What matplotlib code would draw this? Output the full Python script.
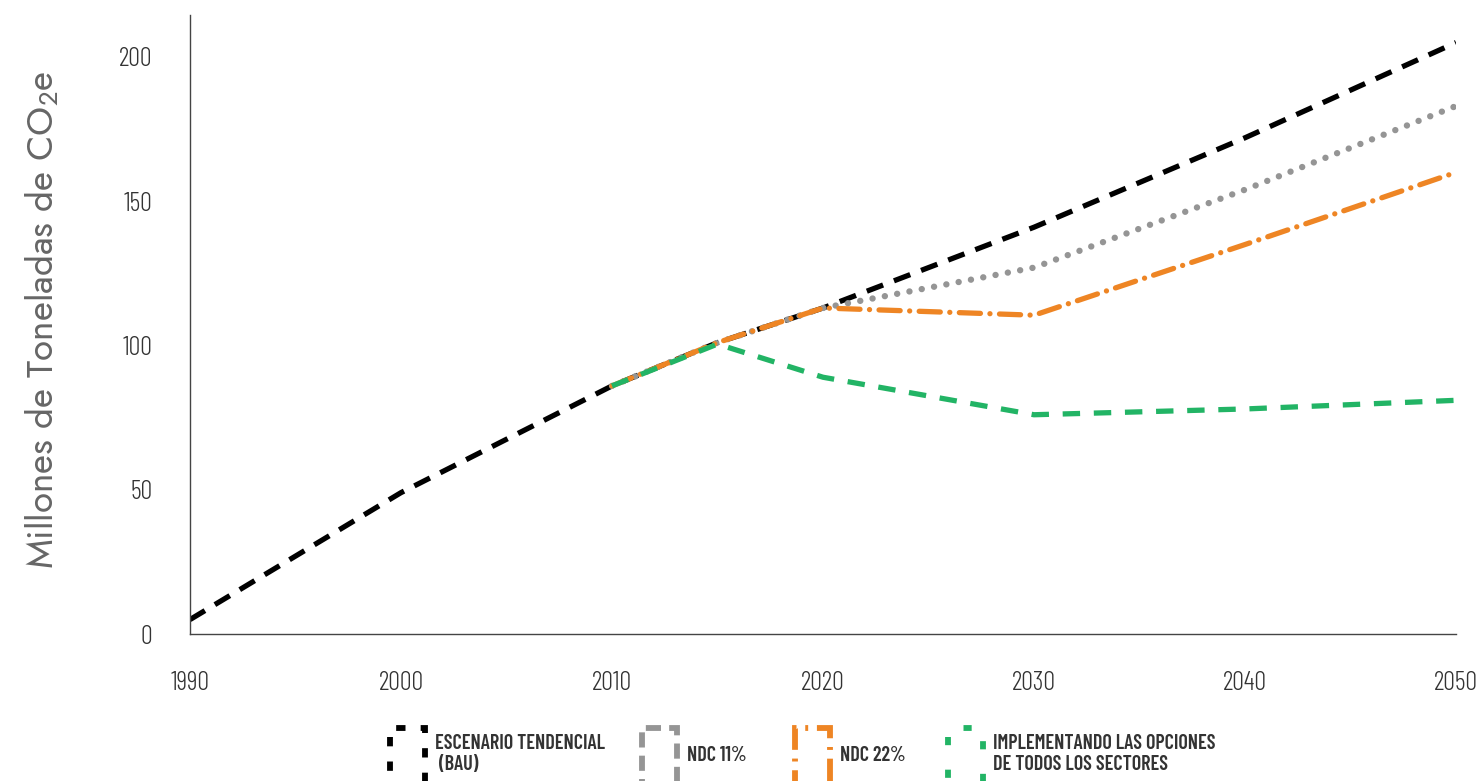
import matplotlib
matplotlib.use("Agg")
import matplotlib.pyplot as plt
from matplotlib.patches import Rectangle
from matplotlib import font_manager

fams = {f.name for f in font_manager.fontManager.ttflist}
def pick(*names):
    for n in names:
        if n in fams:
            return n
    return "DejaVu Sans"

cond = pick("Barlow Condensed", "Encode Sans Condensed", "Roboto Condensed", "DejaVu Sans")
geo = pick("Jost", "Poppins", "Lato", "DejaVu Sans")
plt.rcParams['font.family'] = [cond, 'DejaVu Sans']
plt.rcParams['mathtext.default'] = 'regular'

years_bau = [1990, 2000, 2010, 2015, 2020, 2030, 2040, 2050]
bau = [5, 49, 86, 101, 113, 141, 172, 205]

years_sc = [2010, 2015, 2020, 2030, 2040, 2050]
ndc11 = [86, 101, 113, 127, 154, 183]
ndc22 = [86, 101, 113, 110.5, 135, 160]
todos = [86, 100.5, 89, 76, 78, 81]

labels = ["ESCENARIO TENDENCIAL\n (BAU)", "NDC 11%", "NDC 22%",
          "IMPLEMENTANDO LAS OPCIONES\nDE TODOS LOS SECTORES"]
xticks = [1990, 2000, 2010, 2020, 2030, 2040, 2050]
yticks = [0, 50, 100, 150, 200]

c_bau, c_11, c_22, c_all = "#000000", "#959595", "#ee8524", "#22b465"

fig = plt.figure(figsize=(14.8, 7.81), dpi=100)
ax = fig.add_axes([190/1480, 1-634/781, (1456-190)/1480, (634-15)/781])

ax.plot(years_bau, bau, color=c_bau, lw=3.8, dashes=(3.3, 2.2), zorder=2)
ax.plot(years_sc, ndc11, color=c_11, lw=4.6, dashes=(0.01, 1.95),
        dash_capstyle='round', zorder=3)
ax.plot(years_sc, ndc22, color=c_22, lw=3.8, dashes=(4.0, 1.8, 0.01, 1.8),
        dash_capstyle='round', zorder=4)
ax.plot(years_sc, todos, color=c_all, lw=3.8, dashes=(3.3, 2.6), zorder=5)

ax.set_xlim(1990, 2050)
ax.set_ylim(0, (634-15)/2.885)
ax.set_xticks(xticks)
ax.set_yticks(yticks)
ax.tick_params(length=0, labelsize=19, colors="#333333")
ax.tick_params(axis='x', pad=27)
ax.tick_params(axis='y', pad=27)
for lab in ax.get_xticklabels() + ax.get_yticklabels():
    lab.set_fontweight(300)
for s in ['top', 'right']:
    ax.spines[s].set_visible(False)
for s in ['left', 'bottom']:
    ax.spines[s].set_color("#444444")
    ax.spines[s].set_linewidth(1.0)
ax.set_ylabel("Millones de Toneladas de CO$_2$e", fontsize=26.5, color="#666666",
              family=[geo, 'DejaVu Sans'], fontweight=300, labelpad=0)
ax.yaxis.set_label_coords(-(190-62)/1266, (634-320)/619)

handles = [
    Rectangle((0, 0), 1, 1, facecolor='none', edgecolor=c_bau, lw=4.2, linestyle=(0, (1.6, 2.6))),
    Rectangle((0, 0), 1, 1, facecolor='none', edgecolor=c_11, lw=4.2, linestyle=(0, (2.6, 1.4))),
    Rectangle((0, 0), 1, 1, facecolor='none', edgecolor=c_22, lw=4.2, linestyle=(0, (4, 1.5, 0.5, 1.5))),
    Rectangle((0, 0), 1, 1, facecolor='none', edgecolor=c_all, lw=4.2, linestyle=(0, (1.4, 4.2))),
]
xpos = [390, 642, 795, 948]
for h, lab, xp in zip(handles, labels, xpos):
    leg = fig.legend([h], [lab], loc='upper left',
                     bbox_to_anchor=(xp/1480, 1-728/781), frameon=False,
                     borderpad=0, borderaxespad=0,
                     handlelength=1.75, handleheight=3.9, handletextpad=0.5,
                     prop={'family': [cond, 'DejaVu Sans'], 'size': 14.5, 'weight': 600})
    for t in leg.get_texts():
        t.set_color("#333333")
        t.set_linespacing(1.15)

fig.savefig("out.png", dpi=100)
